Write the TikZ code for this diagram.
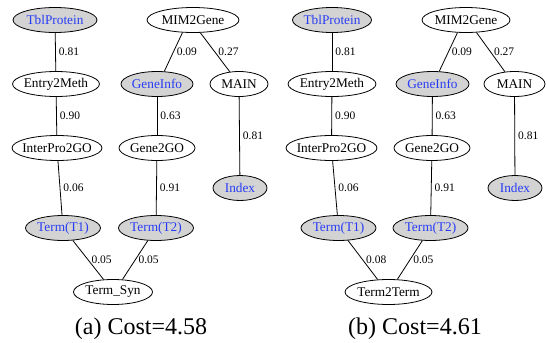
\documentclass[tikz,border=0pt]{standalone}
\usepackage{fontspec}
\setmainfont{Liberation Serif}
\usetikzlibrary{shapes.geometric}
\definecolor{nodeblue}{RGB}{40,60,245}
\definecolor{nodegray}{RGB}{211,211,211}
\newcommand{\nlab}[1]{\makebox[0pt]{#1}}
\tikzset{
 tbl/.style={ellipse, draw, line width=0.8pt, inner sep=0pt, minimum height=25pt, font=\fontsize{13.3}{13.3}\selectfont},
 hl/.style={tbl, fill=nodegray, text=nodeblue},
 wt/.style={font=\fontsize{11.5}{11.5}\selectfont, inner sep=3pt, right},
 conn/.style={line width=0.8pt},
 captext/.style={font=\fontsize{24}{24}\selectfont}
}
\begin{document}
\begin{tikzpicture}[x=1pt,y=-1pt]
\useasboundingbox (0,0) rectangle (547,343);
% panel (a)
\node[hl, minimum width=84pt] (aTbl) at (55,20) {\nlab{TblProtein}};
\node[tbl, minimum width=92pt] (aMim) at (193,20) {\nlab{MIM2Gene}};
\node[tbl, minimum width=87pt] (aEnt) at (56,84) {\nlab{Entry2Meth}};
\node[hl, minimum width=72pt] (aGen) at (157,84) {\nlab{GeneInfo}};
\node[tbl, minimum width=58pt] (aMain) at (239,84) {\nlab{MAIN}};
\node[tbl, minimum width=90pt] (aInt) at (57,148) {\nlab{InterPro2GO}};
\node[tbl, minimum width=76pt] (aG2G) at (157,148) {\nlab{Gene2GO}};
\node[hl, minimum width=54pt] (aIdx) at (240,188) {\nlab{Index}};
\node[hl, minimum width=75pt] (aT1) at (63,228) {\nlab{Term(T1)}};
\node[hl, minimum width=75pt] (aT2) at (156,228) {\nlab{Term(T2)}};
\node[tbl, minimum width=79pt] (aSyn) at (113,292) {\nlab{Term\_Syn}};
\draw[conn] (aTbl) -- node[wt]{0.81} (aEnt);
\draw[conn] (aEnt) -- node[wt]{0.90} (aInt);
\draw[conn] (aInt) -- node[wt]{0.06} (aT1);
\draw[conn] (aMim.230) -- node[wt]{0.09} (aGen.60);
\draw[conn] (aMim.300) -- node[wt]{0.27} (aMain.127);
\draw[conn] (aGen) -- node[wt]{0.63} (aG2G);
\draw[conn] (aG2G) -- node[wt]{0.91} (aT2);
\draw[conn] (aMain) -- node[wt]{0.81} (aIdx);
\draw[conn] (aT1) -- node[wt]{0.05} (aSyn.127);
\draw[conn] (aT2) -- node[wt]{0.05} (aSyn.53);
\node[captext] (capA) at (141,329) {(a) Cost=4.58};
% panel (b)
\node[hl, minimum width=79pt] (bTbl) at (332,20) {\nlab{TblProtein}};
\node[tbl, minimum width=88pt] (bMim) at (466,20) {\nlab{MIM2Gene}};
\node[tbl, minimum width=88pt] (bEnt) at (332,84) {\nlab{Entry2Meth}};
\node[hl, minimum width=73pt] (bGen) at (432.5,84) {\nlab{GeneInfo}};
\node[tbl, minimum width=61pt] (bMain) at (514.5,84) {\nlab{MAIN}};
\node[tbl, minimum width=91pt] (bInt) at (331.5,148) {\nlab{InterPro2GO}};
\node[tbl, minimum width=76pt] (bG2G) at (432,148) {\nlab{Gene2GO}};
\node[hl, minimum width=54pt] (bIdx) at (515,188) {\nlab{Index}};
\node[hl, minimum width=75pt] (bT1) at (338.5,228) {\nlab{Term(T1)}};
\node[hl, minimum width=75pt] (bT2) at (430.5,228) {\nlab{Term(T2)}};
\node[tbl, minimum width=87pt] (bT2T) at (388.5,292) {\nlab{Term2Term}};
\draw[conn] (bTbl) -- node[wt]{0.81} (bEnt);
\draw[conn] (bEnt) -- node[wt]{0.90} (bInt);
\draw[conn] (bInt) -- node[wt]{0.06} (bT1);
\draw[conn] (bMim.236) -- node[wt]{0.09} (bGen.62);
\draw[conn] (bMim.310) -- node[wt]{0.27} (bMain.128);
\draw[conn] (bGen) -- node[wt]{0.63} (bG2G);
\draw[conn] (bG2G) -- node[wt]{0.91} (bT2);
\draw[conn] (bMain) -- node[wt]{0.81} (bIdx);
\draw[conn] (bT1) -- node[wt]{0.08} (bT2T.131);
\draw[conn] (bT2) -- node[wt]{0.05} (bT2T.55);
\node[captext] (capB) at (415,329) {(b) Cost=4.61};
\end{tikzpicture}
\end{document}
